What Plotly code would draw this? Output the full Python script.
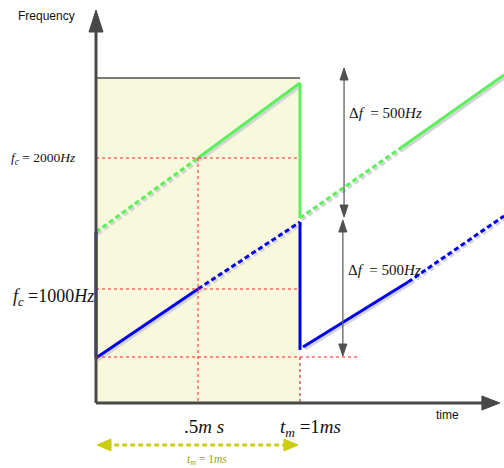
import plotly.graph_objects as go

# ---- schematic data (time in ms, frequency in schematic units) ----
green_in_dash_t = [0.0, 0.5]
green_in_dash_f = [171, 245]
green_in_solid_t = [0.5, 1.0]
green_in_solid_f = [245, 320]
green_jump_t = [1.0, 1.0]
green_jump_f = [320, 185]
green_out_dash_t = [1.0, 1.5]
green_out_dash_f = [185, 256]
green_out_solid_t = [1.5, 2.0]
green_out_solid_f = [256, 328]

blue_jump0_t = [0.0, 0.0]
blue_jump0_f = [171, 45]
blue_in_solid_t = [0.0, 0.5]
blue_in_solid_f = [45, 114]
blue_in_dash_t = [0.5, 1.0]
blue_in_dash_f = [114, 181]
blue_jump1_t = [1.0, 1.0]
blue_jump1_f = [181, 53]
blue_out_solid_t = [1.015, 1.53]
blue_out_solid_f = [56, 121]
blue_out_dash_t = [1.53, 2.0]
blue_out_dash_f = [121, 187]

fc_levels = [245, 114]        # f_c = 2000 Hz, f_c = 1000 Hz reference levels
low_level = 46
t_mid = 0.5
t_m = 1.0
box_top = 325
df_arrow_t = [1.216, 1.21]
df_arrow_top = [[335, 186], [183, 47]]

PX = 1 / 204.0  # ms per pixel

fig = go.Figure()

# shaded box
fig.add_shape(type="rect", x0=0, x1=t_m, y0=0, y1=box_top,
              fillcolor="#f8f8dc", line=dict(width=0), layer="below")
fig.add_shape(type="line", x0=0, x1=t_m, y0=box_top, y1=box_top,
              line=dict(color="#7a7a7a", width=2))

# red dotted guide lines
red = dict(color="#ff2020", width=1, dash="dot")
for lv in fc_levels:
    fig.add_shape(type="line", x0=0, x1=t_m, y0=lv, y1=lv, line=red)
fig.add_shape(type="line", x0=0, x1=1.28, y0=low_level, y1=low_level, line=red)
fig.add_shape(type="line", x0=t_mid, x1=t_mid, y0=fc_levels[0], y1=0, line=red)
fig.add_shape(type="line", x0=t_m, x1=t_m, y0=low_level, y1=0,
              line=dict(color="#c04040", width=1.2, dash="dot"))

DASH = "5px,3px"

def seg(t, f, color, dash=None, width=3, shadow=True):
    if shadow:
        fig.add_trace(go.Scatter(x=[v + 2 * PX for v in t], y=[v - 2 for v in f],
                                 mode="lines", hoverinfo="skip",
                                 line=dict(color="#d4d4d4", width=width, dash=dash)))
    fig.add_trace(go.Scatter(x=t, y=f, mode="lines", hoverinfo="skip",
                             line=dict(color=color, width=width, dash=dash)))

G = "#5cf05c"
B = "#0000ee"
seg(green_in_dash_t, green_in_dash_f, G, DASH, 3)
seg(green_in_solid_t, green_in_solid_f, G, None, 3)
seg(green_jump_t, green_jump_f, G, None, 3, shadow=False)
seg(green_out_dash_t, green_out_dash_f, G, DASH, 3)
seg(green_out_solid_t, green_out_solid_f, G, None, 3)

seg(blue_jump0_t, blue_jump0_f, B, None, 3, shadow=False)
seg(blue_in_solid_t, blue_in_solid_f, B, None, 3)
seg(blue_in_dash_t, blue_in_dash_f, B, DASH, 3)
seg(blue_jump1_t, blue_jump1_f, B, None, 3, shadow=False)
seg(blue_out_solid_t, blue_out_solid_f, B, None, 3)
seg(blue_out_dash_t, blue_out_dash_f, B, DASH, 3)

def tri(tip_t, tip_f, direction, length, half, color):
    # direction: 'up','down','right','left' ; length/half in pixels
    if direction == "up":
        p = [(tip_t, tip_f), (tip_t - half * PX, tip_f - length), (tip_t + half * PX, tip_f - length)]
    elif direction == "down":
        p = [(tip_t, tip_f), (tip_t - half * PX, tip_f + length), (tip_t + half * PX, tip_f + length)]
    elif direction == "right":
        p = [(tip_t, tip_f), (tip_t - length * PX, tip_f + half), (tip_t - length * PX, tip_f - half)]
    else:
        p = [(tip_t, tip_f), (tip_t + length * PX, tip_f + half), (tip_t + length * PX, tip_f - half)]
    path = "M {} {} L {} {} L {} {} Z".format(p[0][0], p[0][1], p[1][0], p[1][1], p[2][0], p[2][1])
    fig.add_shape(type="path", path=path, fillcolor=color, line=dict(color=color, width=1))

# axes with arrows
AX = "#484848"
fig.add_shape(type="line", x0=0, x1=0, y0=0, y1=375, line=dict(color=AX, width=3))
tri(0, 393, "up", 22, 7, AX)
fig.add_shape(type="line", x0=0, x1=1.92, y0=0, y1=0, line=dict(color=AX, width=3))
tri(1.98, 0, "right", 18, 7, AX)

# delta-f double arrows
for tt, (a, b) in zip(df_arrow_t, df_arrow_top):
    fig.add_shape(type="line", x0=tt, x1=tt, y0=a - 8, y1=b + 8,
                  line=dict(color="#606060", width=1.3))
    tri(tt, a, "up", 12, 4, "#505050")
    tri(tt, b, "down", 12, 4, "#505050")

# yellow dashed t_m arrow
Y = "#cccc10"
fig.add_shape(type="line", x0=0.05, x1=0.93, y0=-42, y1=-42,
              line=dict(color=Y, width=3, dash="5px,3px"))
tri(0.005, -42, "left", 14, 6, Y)
tri(0.99, -42, "right", 14, 6, Y)

SERIF = "Liberation Serif"
ann = []
def text(x, y, s, size, font=SERIF, color="#111111", xanchor="center"):
    ann.append(dict(x=x, y=y, xref="x", yref="y", text=s, showarrow=False,
                    xanchor=xanchor, yanchor="middle",
                    font=dict(family=font, size=size, color=color)))

text(-0.245, 387, "Frequency", 12, "Liberation Sans", "#111111")
text(-0.255, 245, "<i>f</i><sub><i>c</i></sub> = 2000<i>Hz</i>", 13.5)
text(-0.206, 106, "<i>f</i><sub><i>c</i></sub> =1000<i>Hz</i>", 18)
text(0.53, -23, ".5<i>m s</i>", 19)
text(1.05, -25, "<i>t</i><sub><i>m</i></sub> =1<i>ms</i>", 19)
text(1.725, -12, "time", 12, "Liberation Sans")
text(1.232, 290, "Δ<i>f</i>  = 500<i>Hz</i>", 15, xanchor="left")
text(1.225, 133, "Δ<i>f</i>  = 500<i>Hz</i>", 15, xanchor="left")
text(0.545, -57, "<i>t</i><sub><i>m</i></sub> = 1<i>ms</i>", 11.5, color="#a0a020")

fig.update_layout(
    width=504, height=468, margin=dict(l=0, r=0, t=0, b=0),
    paper_bgcolor="white", plot_bgcolor="white", showlegend=False,
    annotations=ann,
    xaxis=dict(range=[-96 * PX, 2.0], visible=False, fixedrange=True),
    yaxis=dict(range=[-65, 403], visible=False, fixedrange=True),
)
fig.write_html("out.html")
